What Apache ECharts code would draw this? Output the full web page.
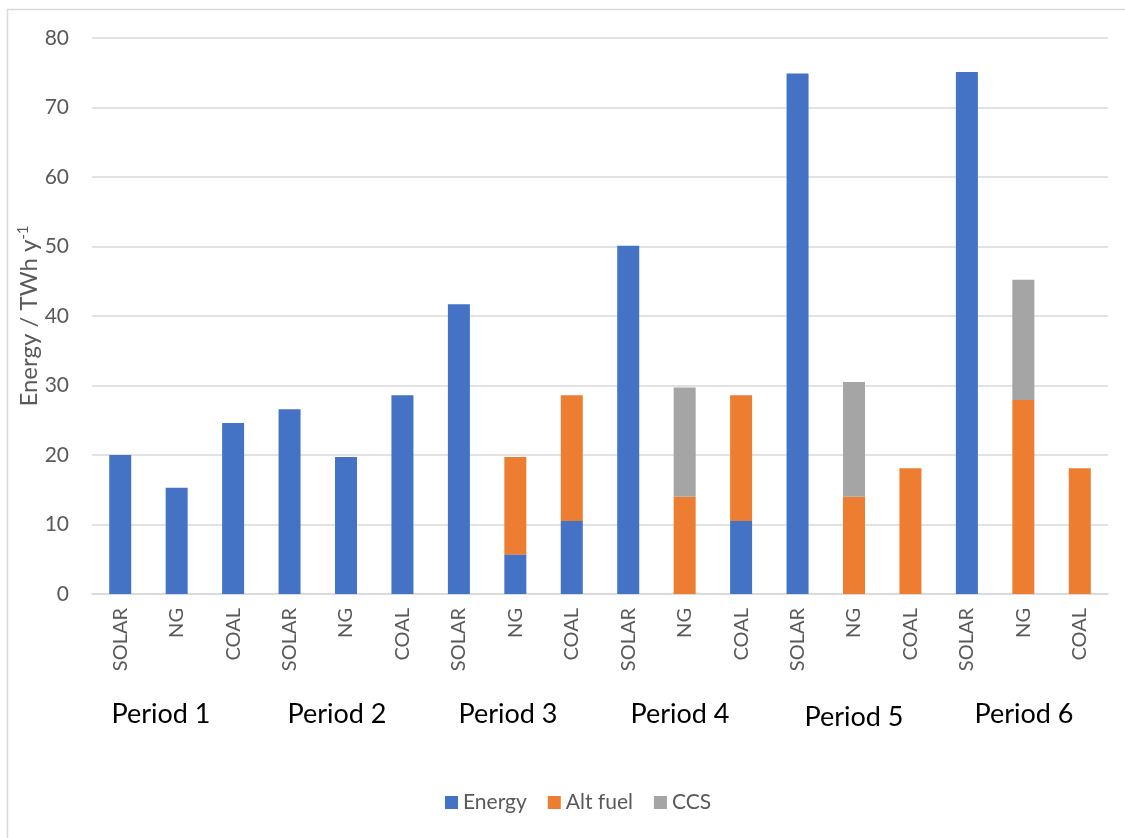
<!DOCTYPE html>
<html>
<head>
<meta charset="utf-8">
<script src="https://cdn.jsdelivr.net/npm/echarts@6/dist/echarts.min.js"></script>
<style>
  html, body { margin: 0; padding: 0; background: #ffffff; }
  #chart { width: 1125px; height: 838px; }
</style>
</head>
<body>
<div id="chart"></div>
<script>
// Technologies per period, repeated for each of the six periods
const categories = [
  'SOLAR', 'NG', 'COAL', 'SOLAR', 'NG', 'COAL', 'SOLAR', 'NG', 'COAL',
  'SOLAR', 'NG', 'COAL', 'SOLAR', 'NG', 'COAL', 'SOLAR', 'NG', 'COAL'
];
const periods = ['Period 1', 'Period 2', 'Period 3', 'Period 4', 'Period 5', 'Period 6'];

// Stacked components, TWh per year
const energy  = [20.0, 15.3, 24.6, 26.6, 19.7, 28.6, 41.7, 5.7, 10.5, 50.1, null, 10.5, 74.9, null, null, 75.1, null, null];
const altFuel = [null, null, null, null, null, null, null, 14.0, 18.1, null, 14.0, 18.1, null, 14.0, 18.1, null, 27.9, 18.1];
const ccs     = [null, null, null, null, null, null, null, null, null, null, 15.7, null, null, 16.5, null, null, 17.3, null];

const yTicks = { min: 0, max: 80, interval: 10 };

const FONT = 'Lato, "Open Sans", sans-serif';
const GREY_TEXT = '#595959';
const GRID_LINE = '#d9d9d9';

const chart = echarts.init(document.getElementById('chart'), null, { renderer: 'canvas' });

// Period captions under each group of three columns
const periodCenters = [161, 337, 508, 680, 854, 1024];
const periodTops = [714, 714, 714, 714, 717, 714];
const periodTexts = periods.map((p, i) => ({
  type: 'text',
  x: periodCenters[i],
  y: periodTops[i],
  style: {
    text: p,
    fill: '#000000',
    font: '27px ' + FONT,
    textAlign: 'center',
    textVerticalAlign: 'middle'
  }
}));

const barBase = { type: 'bar', stack: 'total', barWidth: 22 };

chart.setOption({
  backgroundColor: '#ffffff',
  animation: false,
  textStyle: { fontFamily: FONT },
  grid: { left: 92, right: 17, top: 38, bottom: 244, containLabel: false },
  graphic: [
    {
      type: 'rect',
      shape: { x: 7.5, y: 9.5, width: 1300, height: 1000 },
      style: { fill: null, stroke: GRID_LINE, lineWidth: 1.5 },
      silent: true,
      z: -10
    },
    ...periodTexts
  ],
  legend: {
    bottom: 20,
    left: 440,
    itemWidth: 13,
    itemHeight: 13,
    itemGap: 21,
    icon: 'rect',
    textStyle: { color: GREY_TEXT, fontSize: 21, fontFamily: FONT },
    data: ['Energy', 'Alt fuel', 'CCS']
  },
  xAxis: {
    type: 'category',
    data: categories,
    axisLine: { show: true, lineStyle: { color: GRID_LINE, width: 1.5 } },
    axisTick: { show: false },
    axisLabel: {
      rotate: 90,
      margin: 14,
      color: GREY_TEXT,
      fontSize: 20,
      fontFamily: FONT,
      interval: 0
    }
  },
  yAxis: {
    type: 'value',
    min: yTicks.min,
    max: yTicks.max,
    interval: yTicks.interval,
    name: '{a|Energy / TWh y}{s|-1}',
    nameLocation: 'middle',
    nameRotate: 90,
    nameGap: 50,
    nameMoveOverlap: false,
    nameTextStyle: {
      color: GREY_TEXT,
      fontSize: 24,
      fontFamily: FONT,
      rich: {
        a: { color: GREY_TEXT, fontSize: 24, fontFamily: FONT, lineHeight: 26 },
        s: { color: GREY_TEXT, fontSize: 15, fontFamily: FONT, lineHeight: 26, verticalAlign: 'top', padding: [0, 0, 9, 0] }
      }
    },
    axisLine: { show: false },
    axisTick: { show: false },
    axisLabel: { color: GREY_TEXT, fontSize: 21, fontFamily: FONT, margin: 23 },
    splitLine: { lineStyle: { color: GRID_LINE, width: 1.5 } }
  },
  series: [
    Object.assign({}, barBase, { name: 'Energy', data: energy, itemStyle: { color: '#4472C4' } }),
    Object.assign({}, barBase, { name: 'Alt fuel', data: altFuel, itemStyle: { color: '#ED7D31' } }),
    Object.assign({}, barBase, { name: 'CCS', data: ccs, itemStyle: { color: '#A5A5A5' } })
  ]
});
</script>
</body>
</html>
